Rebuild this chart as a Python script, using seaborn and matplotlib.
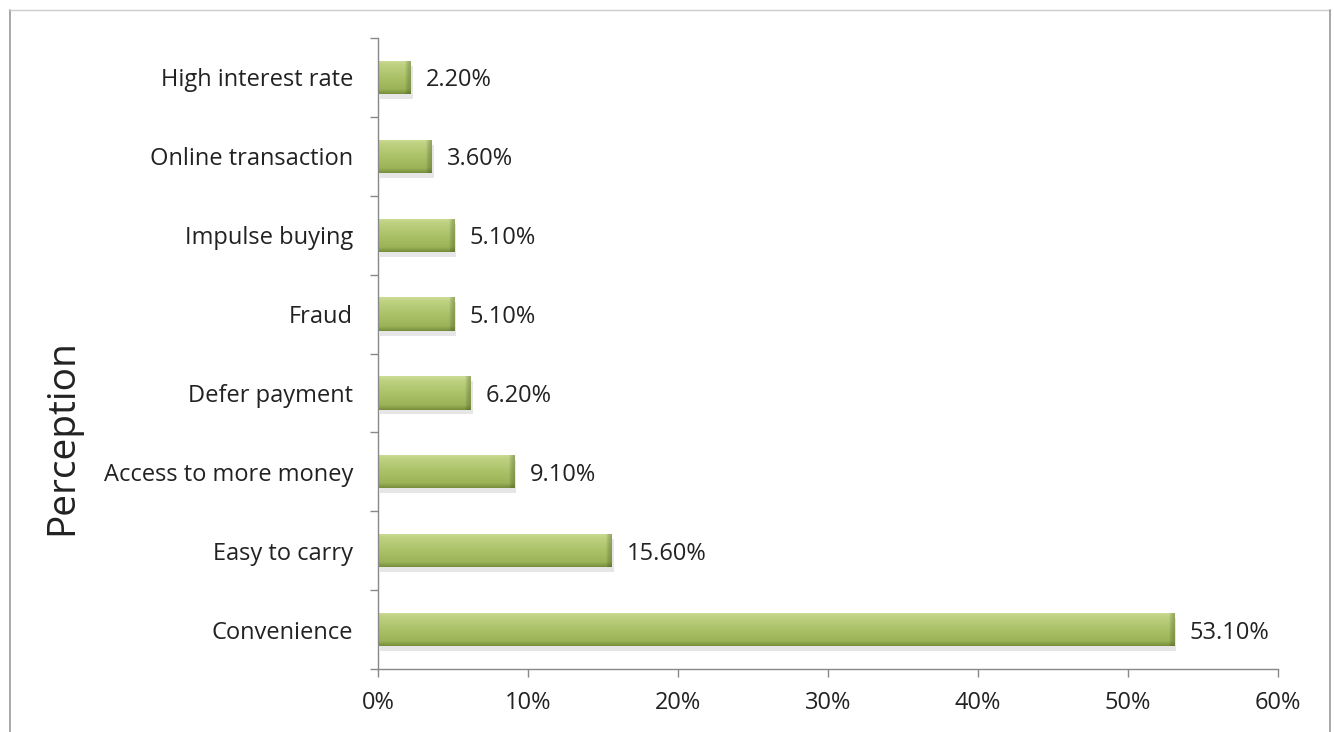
import numpy as np
import pandas as pd
import matplotlib
matplotlib.use("Agg")
import matplotlib.pyplot as plt
import seaborn as sns
from matplotlib.colors import LinearSegmentedColormap

categories = ["High interest rate", "Online transaction", "Impulse buying", "Fraud",
              "Defer payment", "Access to more money", "Easy to carry", "Convenience"]
values = [2.2, 3.6, 5.1, 5.1, 6.2, 9.1, 15.6, 53.1]
xticks = [0, 10, 20, 30, 40, 50, 60]
xtick_labels = ["0%", "10%", "20%", "30%", "40%", "50%", "60%"]

sns.set_theme(style="white")
plt.rcParams['font.family'] = ['Open Sans', 'DejaVu Sans']

df = pd.DataFrame({"cat": categories, "val": values})

fig = plt.figure(figsize=(13.34, 7.32), dpi=100)
ax = fig.add_axes([378/1334, 1 - 669/732, 900/1334, 631/732])

sns.barplot(data=df, y="cat", x="val", orient="h", color="#a6be62", width=0.42,
            ax=ax, saturation=1, edgecolor="none")

cmap = LinearSegmentedColormap.from_list(
    "g", [(0, "#cddd98"), (0.12, "#bfd382"), (0.5, "#abc268"), (0.85, "#9cb458"), (1, "#768c3c")])
grad = np.linspace(0, 1, 256).reshape(-1, 1)
hgrad = np.linspace(0, 1, 256).reshape(1, -1)
bevel = LinearSegmentedColormap.from_list("b", [(0, "#00000000"), (1, "#55662a66")])
for p in ax.patches:
    x0, y0 = p.get_x(), p.get_y()
    w, h = p.get_width(), p.get_height()
    ax.add_patch(plt.Rectangle((x0 + 0.1, y0 + h * 0.15), w, h, color="#c8c8c8", alpha=0.45,
                               zorder=p.get_zorder() - 0.5, lw=0))
    im = ax.imshow(grad, extent=[x0, x0 + w, y0 + h, y0], aspect="auto", cmap=cmap,
                   zorder=p.get_zorder() + 0.1, origin="upper")
    im.set_clip_path(p)
    bw = min(0.4, w * 0.2)
    im2 = ax.imshow(hgrad, extent=[x0 + w - bw, x0 + w, y0 + h, y0], aspect="auto", cmap=bevel,
                    zorder=p.get_zorder() + 0.2, origin="upper")
    im2.set_clip_path(p)

for i, v in enumerate(values):
    ax.text(v + 1.0, i, f"{v:.2f}%", va="center_baseline", ha="left", fontsize=17, color="#222222")

ax.set_xlim(0, 60)
ax.set_ylim(len(categories) - 0.5, -0.5)
ax.set_xticks(xticks)
ax.set_xticklabels(xtick_labels, fontsize=17, color="#222222")
ax.set_yticks(range(len(categories)))
ax.set_yticklabels(categories, fontsize=17, color="#222222")
ax.tick_params(axis="y", which="major", length=0, pad=18)
ax.tick_params(axis="x", length=6, color="#888888", width=1, direction="out", pad=10, bottom=True)
ax.set_yticks(np.arange(-0.5, len(categories), 1), minor=True)
ax.tick_params(axis="y", which="minor", length=6, color="#888888", width=1, direction="out", left=True)
ax.set_xlabel("")
ax.set_ylabel("Perception", fontsize=28, color="#222222")
ax.yaxis.set_label_coords(-0.33, 0.368)

for s in ["top", "right"]:
    ax.spines[s].set_visible(False)
for s in ["left", "bottom"]:
    ax.spines[s].set_color("#888888")
    ax.spines[s].set_linewidth(1)

fig.add_artist(plt.Line2D([10/1334, 10/1334], [1 - 10/732, 0], color="#999999", lw=1.2, transform=fig.transFigure))
fig.add_artist(plt.Line2D([10/1334, 1330/1334], [1 - 10/732, 1 - 10/732], color="#cccccc", lw=1.0, transform=fig.transFigure))
fig.add_artist(plt.Line2D([1330/1334, 1330/1334], [1 - 10/732, 0], color="#999999", lw=1.2, transform=fig.transFigure))

fig.savefig("out.png", dpi=100)
